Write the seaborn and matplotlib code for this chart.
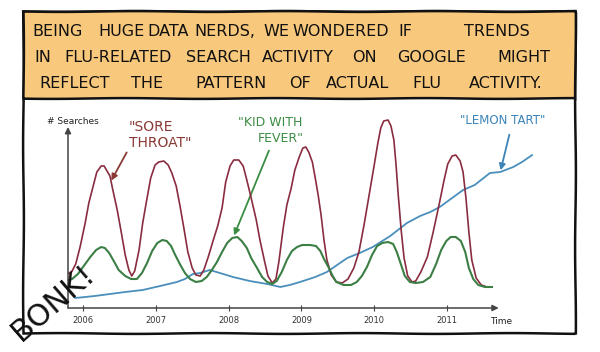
import matplotlib
matplotlib.use('Agg')
import matplotlib.pyplot as plt
import pandas as pd
import seaborn as sns
from matplotlib.patches import Rectangle

# google search volume (x in years, y in arbitrary units)
sore_years = [2005.79, 2005.85, 2005.90, 2005.96, 2006.03, 2006.08, 2006.14, 2006.19, 2006.25, 2006.29,
              2006.33, 2006.37, 2006.41, 2006.47, 2006.52, 2006.58, 2006.63, 2006.67, 2006.71, 2006.77,
              2006.82, 2006.88, 2006.93, 2006.99, 2007.04, 2007.11, 2007.17, 2007.22, 2007.28, 2007.33,
              2007.39, 2007.44, 2007.50, 2007.55, 2007.61, 2007.66, 2007.72, 2007.79, 2007.85, 2007.91,
              2007.96, 2008.02, 2008.07, 2008.14, 2008.20, 2008.25, 2008.31, 2008.38, 2008.43, 2008.49,
              2008.54, 2008.60, 2008.65, 2008.69, 2008.75, 2008.80, 2008.86, 2008.91, 2008.97, 2009.02,
              2009.06, 2009.10, 2009.15, 2009.19, 2009.23, 2009.27, 2009.31, 2009.35, 2009.41, 2009.48,
              2009.56, 2009.64, 2009.72, 2009.79, 2009.86, 2009.93, 2010.00, 2010.05, 2010.09, 2010.13,
              2010.19, 2010.23, 2010.27, 2010.30, 2010.33, 2010.37, 2010.41, 2010.46, 2010.52, 2010.57,
              2010.64, 2010.73, 2010.81, 2010.89, 2010.96, 2011.01, 2011.07, 2011.12, 2011.18, 2011.22,
              2011.26, 2011.30, 2011.34, 2011.40, 2011.47, 2011.55, 2011.62]
sore_vals = [34, 37, 44, 61, 85, 105, 122, 136, 142, 142,
             137, 132, 118, 98, 78, 53, 38, 32, 37, 58,
             85, 110, 130, 143, 146, 147, 143, 135, 122, 103,
             78, 56, 40, 33, 32, 38, 51, 68, 82, 100,
             126, 142, 148, 148, 142, 128, 110, 88, 68, 48,
             32, 25, 29, 46, 80, 103, 120, 138, 151, 160,
             161, 156, 146, 130, 113, 93, 68, 48, 33, 26,
             25, 29, 40, 56, 83, 113, 143, 165, 180, 187,
             188, 182, 168, 143, 113, 78, 50, 32, 26, 27,
             36, 51, 76, 103, 128, 144, 152, 153, 147, 136,
             110, 76, 48, 30, 23, 21, 21]

fever_years = [2005.79, 2005.85, 2005.93, 2006.01, 2006.10, 2006.18, 2006.25, 2006.30, 2006.36, 2006.43,
               2006.49, 2006.58, 2006.66, 2006.74, 2006.81, 2006.88, 2006.95, 2007.02, 2007.09, 2007.15,
               2007.21, 2007.26, 2007.33, 2007.40, 2007.47, 2007.55, 2007.63, 2007.70, 2007.77, 2007.84,
               2007.91, 2007.98, 2008.05, 2008.12, 2008.18, 2008.25, 2008.31, 2008.39, 2008.46, 2008.53,
               2008.60, 2008.66, 2008.73, 2008.80, 2008.87, 2008.94, 2009.01, 2009.12, 2009.20, 2009.26,
               2009.31, 2009.37, 2009.43, 2009.48, 2009.58, 2009.68, 2009.76, 2009.83, 2009.90, 2009.97,
               2010.04, 2010.11, 2010.19, 2010.26, 2010.31, 2010.37, 2010.42, 2010.49, 2010.57, 2010.67,
               2010.77, 2010.85, 2010.92, 2010.99, 2011.05, 2011.12, 2011.19, 2011.25, 2011.30, 2011.36,
               2011.43, 2011.52, 2011.62]
fever_vals = [28, 29, 34, 42, 51, 58, 61, 60, 55, 46,
              38, 32, 29, 29, 35, 45, 57, 65, 68, 67,
              62, 54, 44, 35, 29, 26, 27, 31, 38, 46,
              56, 65, 70, 71, 67, 60, 50, 40, 31, 26,
              24, 27, 36, 48, 57, 61, 63, 63, 62, 57,
              49, 41, 32, 26, 23, 23, 26, 32, 41, 53,
              62, 65, 66, 64, 56, 43, 32, 26, 25, 26,
              31, 44, 58, 67, 71, 71, 67, 56, 40, 29,
              23, 21, 21]

lemon_years = [2005.89, 2006.03, 2006.16, 2006.37, 2006.58, 2006.82, 2007.06, 2007.29, 2007.40, 2007.51,
               2007.61, 2007.74, 2007.88, 2008.06, 2008.29, 2008.53, 2008.71, 2008.84, 2008.98, 2009.19,
               2009.35, 2009.53, 2009.63, 2009.80, 2009.98, 2010.22, 2010.45, 2010.63, 2010.77, 2010.90,
               2011.07, 2011.22, 2011.38, 2011.59, 2011.73, 2011.91, 2012.03, 2012.17]
lemon_vals = [10, 11, 12, 14, 16, 18, 22, 26, 29, 34,
              35, 38, 35, 31, 27, 24, 21, 23, 26, 31,
              36, 45, 50, 55, 61, 72, 85, 92, 96, 101,
              110, 118, 123, 135, 136, 141, 146, 153]

year_ticks = [2006, 2007, 2008, 2009, 2010, 2011]

caption_words = [["BEING", "HUGE", "DATA", "NERDS,", "WE", "WONDERED", "IF", "TRENDS"],
                 ["IN", "FLU-RELATED", "SEARCH", "ACTIVITY", "ON", "GOOGLE", "MIGHT"],
                 ["REFLECT", "THE", "PATTERN", "OF", "ACTUAL", "FLU", "ACTIVITY."]]
# word centres along each caption line, in pixels
caption_x = [[58, 121, 168, 225, 276, 341, 405, 497],
             [43, 118, 218, 298, 364, 432, 524],
             [75, 147, 231, 300, 357, 427, 506]]

red = '#8a2c40'
green = '#3b7f45'
blue = '#4a8fbb'
axc = '#444444'

sns.set_style('white')
plt.rcParams['font.family'] = ['DejaVu Sans']

fig = plt.figure(figsize=(6, 3.52), dpi=100)

# background in pixel coords: panel frame, caption box, labels
bg = fig.add_axes([0, 0, 1, 1])
bg.set_xlim(0, 600)
bg.set_ylim(352, 0)
bg.axis('off')

panel = Rectangle((23, 11), 552, 322, facecolor='white', edgecolor='#111111', lw=1.8)
panel.set_sketch_params(0.4, 150, 1)
bg.add_patch(panel)
cap = Rectangle((23, 11), 552, 87, facecolor='#f8c87c', edgecolor='#111111', lw=1.8)
cap.set_sketch_params(0.4, 150, 1)
bg.add_patch(cap)

for i, (words, xs) in enumerate(zip(caption_words, caption_x)):
    for w, x in zip(words, xs):
        bg.text(x, 32 + 25.5 * i, w, fontsize=11.5, ha='center', va='center', color='#111111')

bg.text(47, 122, '# Searches', fontsize=6.5, ha='left', va='center', color='#222222')
bg.text(490, 322, 'Time', fontsize=6.5, ha='left', va='center', color='#222222')

bg.text(151, 127, '"SORE', fontsize=10, ha='center', va='center', color='#8a3a35')
bg.text(160, 143, 'THROAT"', fontsize=10, ha='center', va='center', color='#8a3a35')
bg.text(270, 122, '"KID WITH', fontsize=9, ha='center', va='center', color='#3a8c42')
bg.text(281, 138, 'FEVER"', fontsize=9, ha='center', va='center', color='#3a8c42')
bg.text(503, 120, '"LEMON TART"', fontsize=8.5, ha='center', va='center', color='#3b84b8')

bg.annotate('', xy=(110, 183), xytext=(128, 150),
            arrowprops=dict(arrowstyle='-|>', color='#8a3a35', lw=1.3, mutation_scale=9))
bg.annotate('', xy=(233, 238), xytext=(270, 148),
            arrowprops=dict(arrowstyle='-|>', color='#3a8c42', lw=1.3, mutation_scale=9))
bg.annotate('', xy=(500, 173), xytext=(510, 132),
            arrowprops=dict(arrowstyle='-|>', color='#3b84b8', lw=1.3, mutation_scale=9))

# the chart itself
ax = fig.add_axes([68 / 600, 44 / 352, 472 / 600, 193 / 352])
ax.set_facecolor('none')
x0, x1 = 2005.794, 2012.277
ax.set_xlim(x0, x1)
ax.set_ylim(0, 193)

sore = pd.DataFrame({'year': sore_years, 'searches': sore_vals})
fever = pd.DataFrame({'year': fever_years, 'searches': fever_vals})
lemon = pd.DataFrame({'year': lemon_years, 'searches': lemon_vals})

sns.lineplot(data=lemon, x='year', y='searches', ax=ax, color=blue, lw=1.3, estimator=None, sort=False)
sns.lineplot(data=sore, x='year', y='searches', ax=ax, color=red, lw=1.2, estimator=None, sort=False)
sns.lineplot(data=fever, x='year', y='searches', ax=ax, color=green, lw=1.5, estimator=None, sort=False)
for ln in ax.lines:
    ln.set_solid_joinstyle('round')

for s in ax.spines.values():
    s.set_visible(False)
ax.annotate('', xy=(2011.71, 0), xytext=(x0, 0), annotation_clip=False,
            arrowprops=dict(arrowstyle='-|>', color=axc, lw=1.1, mutation_scale=9, shrinkA=0, shrinkB=0))
ax.annotate('', xy=(x0, 181), xytext=(x0, 0), annotation_clip=False,
            arrowprops=dict(arrowstyle='-|>', color=axc, lw=1.1, mutation_scale=9, shrinkA=0, shrinkB=0))

ax.set_xticks(year_ticks)
ax.set_xticklabels([str(y) for y in year_ticks])
ax.set_yticks([])
ax.tick_params(axis='x', direction='inout', length=5, width=0.8, color=axc, pad=3,
               labelsize=6, labelcolor='#333333', bottom=True)
ax.set_xlabel('')
ax.set_ylabel('')

fig.text(53 / 600, 1 - 303 / 352, 'BONK!', fontsize=22, rotation=41, ha='center', va='center',
         color='#111111')

fig.savefig('out.png', dpi=100)
